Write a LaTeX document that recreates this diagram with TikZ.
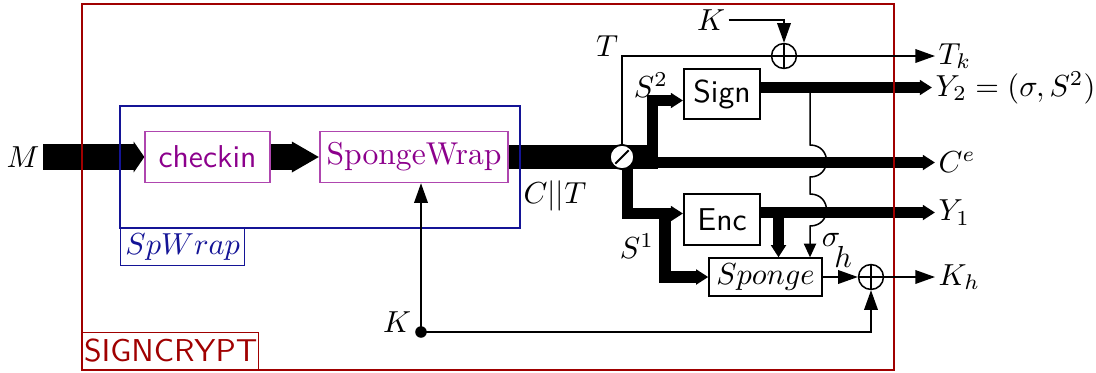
\documentclass[tikz,border=0pt]{standalone}
\usetikzlibrary{arrows.meta}
\pgfdeclarelayer{background}
\pgfsetlayers{background,main}
\definecolor{frame}{RGB}{160,0,0}
\definecolor{wrapblue}{RGB}{20,20,150}
\definecolor{purp}{RGB}{140,0,140}
\definecolor{purpline}{RGB}{175,70,175}
\begin{document}
\fontsize{10.4pt}{12.5pt}\selectfont
\begin{tikzpicture}[x=0.329pt,y=-0.329pt,
  box/.style={draw, inner sep=0pt, line width=0.45pt},
  pbox/.style={box, draw=purpline, text=purp},
  xorn/.style={circle, draw, minimum size=8.2pt, inner sep=0pt, line width=0.5pt},
  tarrow/.style={line width=0.5pt, -{Triangle[length=6.5pt,width=4.5pt]}},
  fatarrow/.style={line width=3.8pt, -{Triangle[length=4pt,width=4.8pt]}},
  bigarrowA/.style={line width=8.5pt, -{Triangle[length=3.5pt,width=10pt]}},
  bigarrowB/.style={line width=8.5pt, -{Triangle[length=9pt,width=9.5pt]}},
  lbl/.style={inner sep=1pt}]
\useasboundingbox (0,0) rectangle (1096,372);

% frames
\draw[frame, line width=0.5pt] (82,4) rectangle (894,370);
\node[box, draw=frame, text=frame, font=\sffamily, anchor=south west,
      minimum width=57.9pt, minimum height=12.2pt] (sc) at (82,370) {SIGNCRYPT};
\draw[wrapblue, line width=0.5pt] (120,106) rectangle (520,228);
\node[box, draw=wrapblue, text=wrapblue, anchor=north west,
      minimum width=40.8pt, minimum height=12.2pt] (spw) at (120,228) {$SpWrap$};

% boxes
\node[pbox, font=\sffamily, minimum width=41.1pt, minimum height=16.8pt] (checkin) at (207.5,157) {checkin};
\node[pbox, minimum width=61.9pt, minimum height=16.8pt] (spongewrap) at (414,157) {SpongeWrap};
\node[box, font=\sffamily, minimum width=25pt, minimum height=16.5pt] (sign) at (722,94) {Sign};
\node[box, font=\sffamily, minimum width=25pt, minimum height=16.8pt] (enc) at (722,219.5) {Enc};
\node[box, minimum width=37.2pt, minimum height=12.5pt] (sponge) at (765.5,277) {$Sponge$};

% split circle and xors
\node[circle, draw, fill=white, minimum size=8pt, inner sep=0pt, line width=0.6pt] (sp) at (622,157) {};
\draw[line width=0.6pt, shorten >=1.2pt, shorten <=1.2pt] (sp.225) -- (sp.45);
\node[xorn] (xt) at (784,56) {};
\draw (xt.north) -- (xt.south) (xt.west) -- (xt.east);
\node[xorn] (xb) at (871,277) {};
\draw (xb.north) -- (xb.south) (xb.west) -- (xb.east);

% labels
\node[lbl] (M) at (23,157) {$M$};
\node[lbl] at (555,196) {$C||T$};
\node[lbl] at (607,46) {$T$};
\node[lbl] (ktop) at (711,20) {$K$};
\node[lbl] at (651,85) {$S^2$};
\node[lbl] at (637,246) {$S^1$};
\node[lbl] at (831,240) {$\sigma$};
\node[lbl] at (843,257) {$h$};
\node[lbl] (kb) at (397,322) {$K$};

% output end points
\coordinate (tk) at (935,56);
\coordinate (y2) at (932,87.5);
\coordinate (ce) at (935,162.5);
\coordinate (y1) at (935,212.5);
\coordinate (kh) at (935,277);
\node[lbl, anchor=west] at (tk) {$T_k$};
\node[lbl, anchor=west] at (y2) {$Y_2=(\sigma,S^2)$};
\node[lbl, anchor=west] at (ce) {$C^e$};
\node[lbl, anchor=west] at (y1) {$Y_1$};
\node[lbl, anchor=west] at (kh) {$K_h$};

% junction coordinates
\coordinate (mstart) at (43,157);
\coordinate (mainend) at (658,157);
\coordinate (ces) at (647,162.5);
\coordinate (s2s) at (652.5,152);
\coordinate (s2c) at (652.5,100.5);
\coordinate (s2e) at (683,100.5);
\coordinate (s1s) at (627.5,160);
\coordinate (s1c) at (627.5,213.5);
\coordinate (s1e) at (683,213.5);
\coordinate (s1b) at (665,213.5);
\coordinate (s1d) at (665,277);
\coordinate (encdn) at (778.5,212.5);
\coordinate (sg) at (810,87.5);
\coordinate (kd) at (421,332);

\begin{pgfonlayer}{background}
\draw[bigarrowA] (mstart) -- (checkin.west);
\draw[bigarrowB] (checkin.east) -- (spongewrap.west);
\draw[line width=8.2pt] (spongewrap.east) -- (mainend);
\draw[fatarrow] (ces) -- (ce);
\draw[fatarrow] (s2s) -- (s2c) -- (s2e);
\draw[fatarrow] (s1s) -- (s1c) -- (s1e);
\draw[fatarrow] (s1b) -- (s1d) -- (sponge.west |- s1d);
\draw[fatarrow] (sign.east |- y2) -- (y2);
\draw[fatarrow] (enc.east |- y1) -- (y1);
\draw[fatarrow] (encdn) -- (encdn |- sponge.north);
\end{pgfonlayer}

% thin connectors
\draw[line width=0.5pt] (sp.north) |- (xt.west);
\draw[tarrow] (xt.east) -- (tk);
\draw[tarrow] (ktop.east) -| (xt.north);
\draw[line width=0.5pt, -{Triangle[length=4.5pt,width=4pt]}]
  (sg) -- (810,145) .. controls (832,145) and (832,177) .. (810,177)
  -- (810,194) .. controls (832,194) and (832,226) .. (810,226)
  -- (sg |- sponge.north);
\draw[tarrow] (sponge.east) -- (xb.west);
\draw[tarrow] (xb.east) -- (kh);
\fill (kd) circle (1.9pt);
\draw[tarrow] (kd) -- (kd |- spongewrap.south);
\draw[tarrow] (kd) -| (xb.south);
\end{tikzpicture}
\end{document}
